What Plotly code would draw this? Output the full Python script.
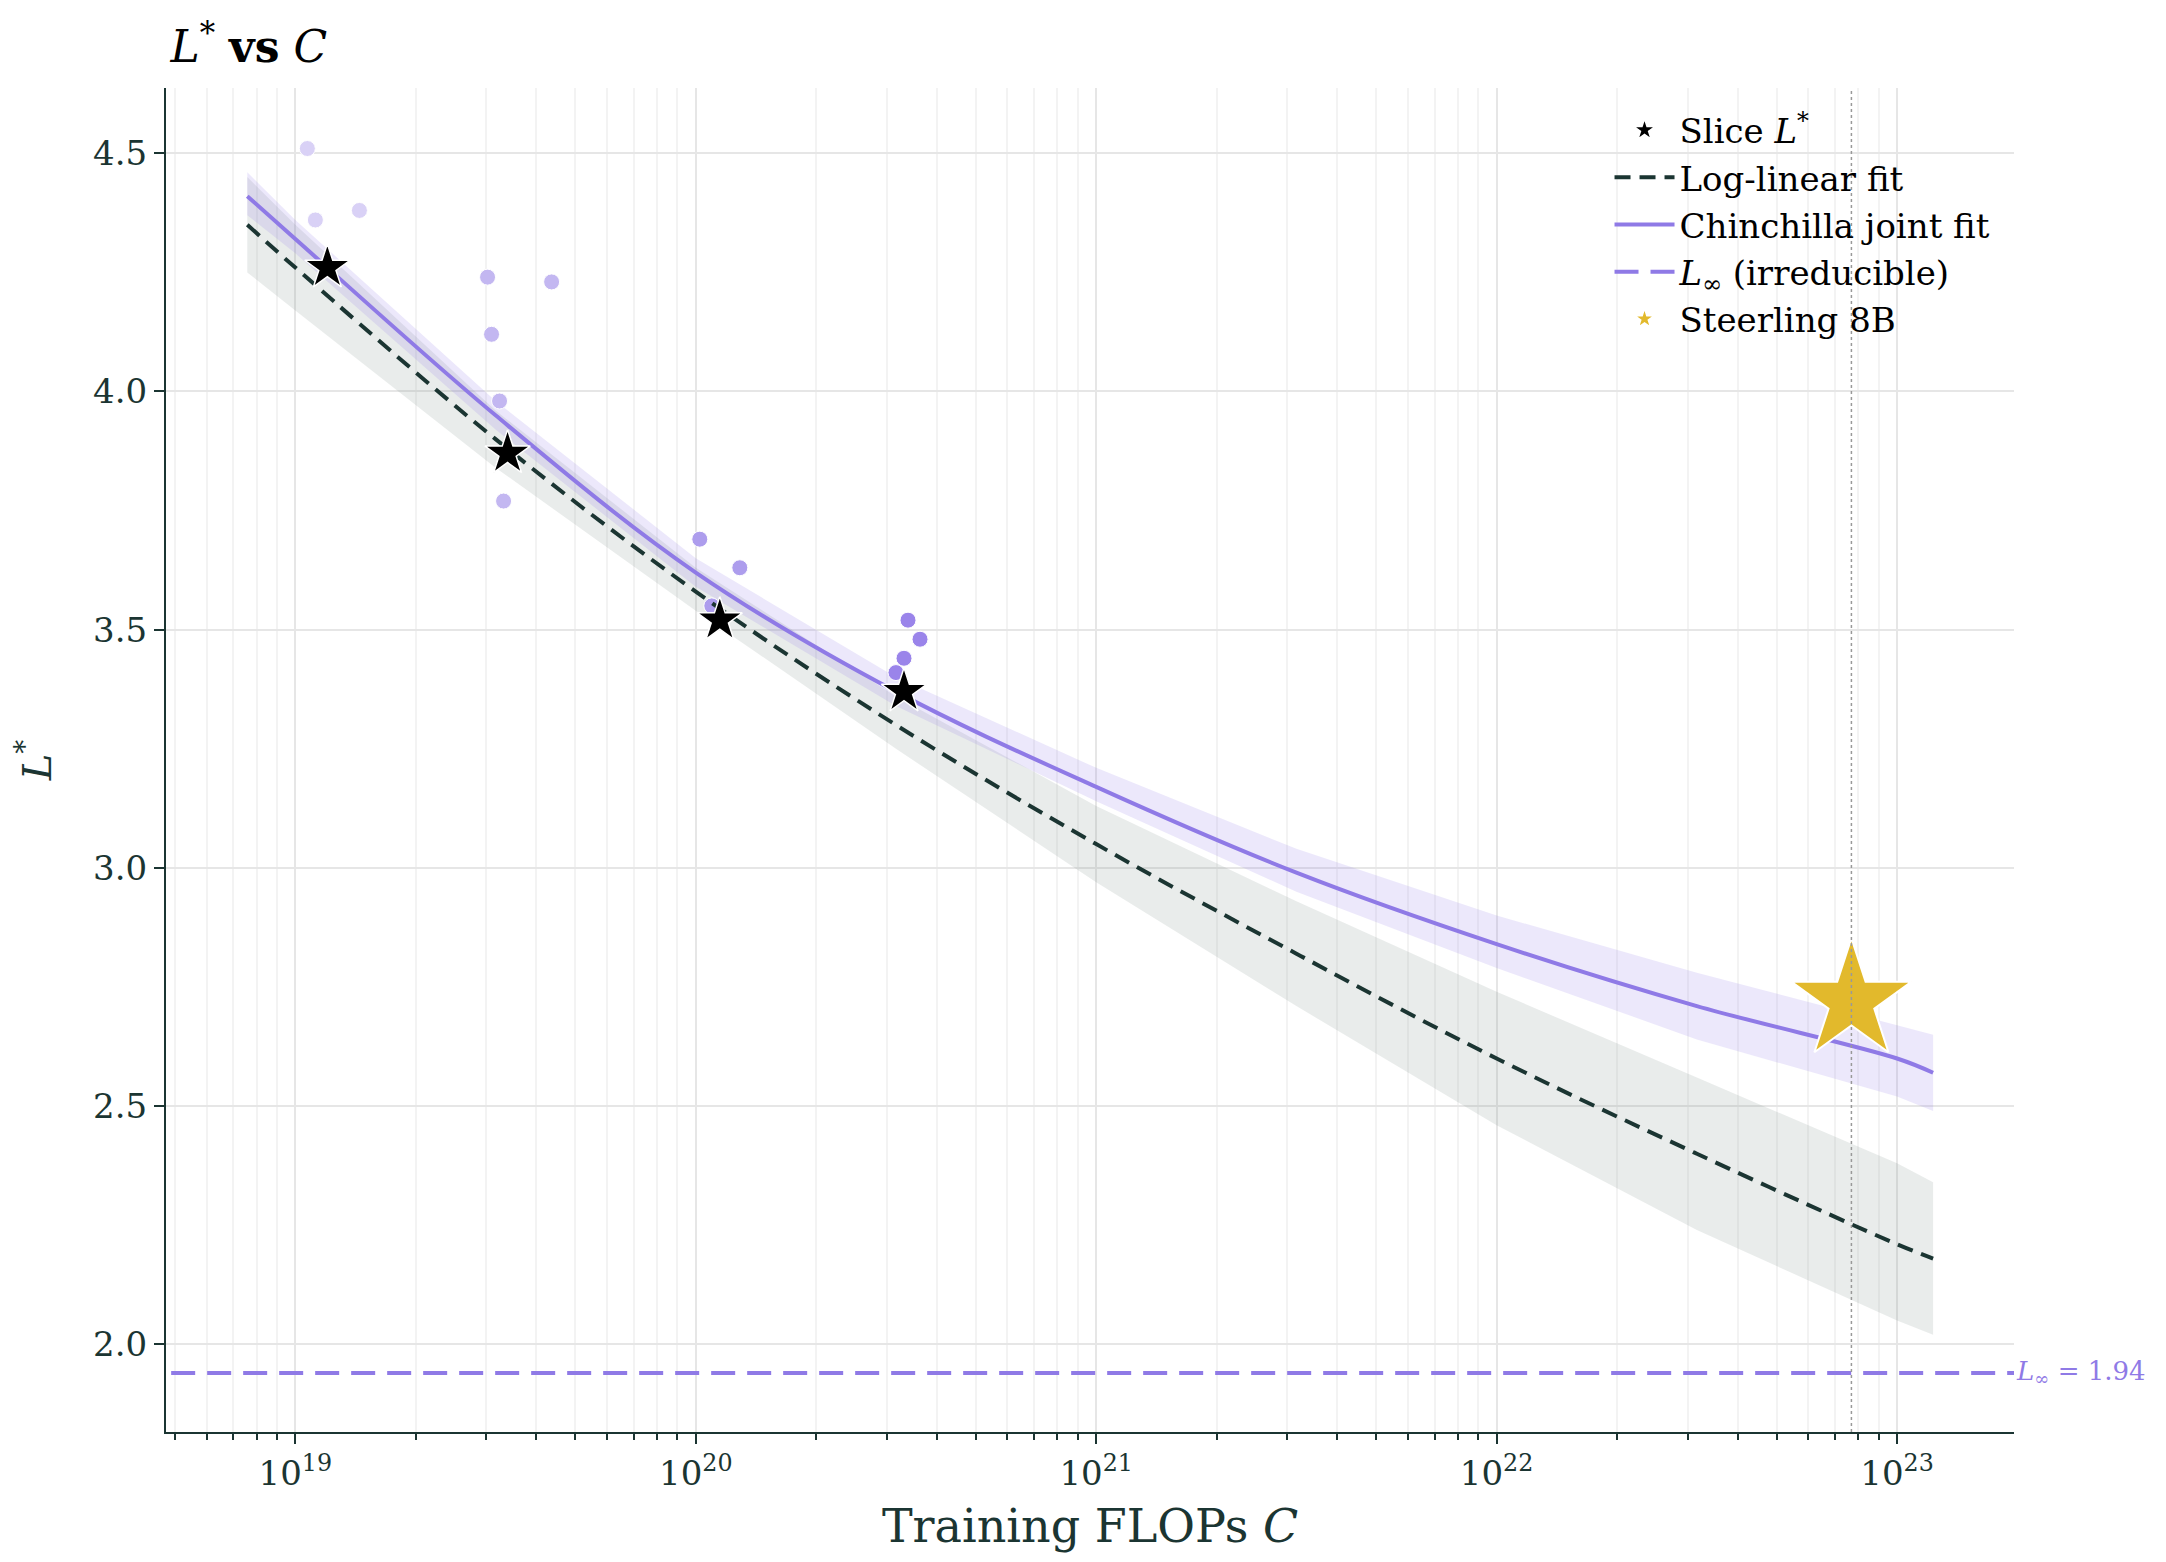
import numpy as np
import plotly.graph_objects as go

# fit curves (log10 C -> L*)
fit_logc = [18.88, 19.0, 19.5, 20.0, 20.5, 21.0, 21.5, 22.0, 22.5, 23.0, 23.09]
chin_fit = [4.41, 4.32, 3.95, 3.62, 3.37, 3.17, 2.99, 2.84, 2.71, 2.60, 2.57]
chin_lo = [4.37, 4.29, 3.92, 3.59, 3.34, 3.14, 2.95, 2.79, 2.64, 2.52, 2.49]
chin_hi = [4.46, 4.36, 3.98, 3.65, 3.40, 3.21, 3.04, 2.90, 2.78, 2.67, 2.65]
loglin_fit = [4.35, 4.26, 3.90, 3.58, 3.30, 3.05, 2.82, 2.60, 2.40, 2.21, 2.18]
loglin_lo = [4.25, 4.17, 3.84, 3.54, 3.25, 2.97, 2.71, 2.46, 2.24, 2.05, 2.02]
loglin_hi = [4.45, 4.35, 3.96, 3.63, 3.36, 3.13, 2.93, 2.74, 2.56, 2.38, 2.34]

# raw runs
run_logc = [19.03, 19.05, 19.16, 19.48, 19.49, 19.64, 19.51, 19.52,
            20.01, 20.11, 20.04, 20.53, 20.56, 20.52, 20.50]
run_loss = [4.51, 4.36, 4.38, 4.24, 4.12, 4.23, 3.98, 3.77,
            3.69, 3.63, 3.55, 3.52, 3.48, 3.44, 3.41]
run_group = [0, 0, 0, 1, 1, 1, 1, 1, 2, 2, 2, 3, 3, 3, 3]

# per-slice optimum
slice_logc = [19.08, 19.53, 20.06, 20.52]
slice_loss = [4.26, 3.87, 3.52, 3.37]

steerling_logc = 22.886
steerling_loss = 2.72
l_inf = 1.94

group_colors = ['#d9d1f6', '#c3b7f1', '#ad9ded', '#9a84ea']
PURPLE = '#8f7ae6'
DARK = '#1b3532'
FONT = 'DejaVu Serif'


def p10(v):
    return 10.0 ** v


fc = [p10(v) for v in fit_logc]
fig = go.Figure()

fig.add_trace(go.Scatter(x=fc + fc[::-1], y=loglin_hi + loglin_lo[::-1],
        fill='toself', fillcolor='rgba(120,135,130,0.16)', line=dict(width=0),
        hoverinfo='skip', showlegend=False))
fig.add_trace(go.Scatter(x=fc + fc[::-1], y=chin_hi + chin_lo[::-1],
        fill='toself', fillcolor='rgba(150,130,235,0.18)', line=dict(width=0),
        hoverinfo='skip', showlegend=False))

fig.add_trace(go.Scatter(x=[p10(v) for v in run_logc], y=run_loss, mode='markers',
        marker=dict(size=16, color=[group_colors[g] for g in run_group],
                    line=dict(color='white', width=1)),
        showlegend=False))

fig.add_trace(go.Scatter(x=fc, y=loglin_fit, mode='lines', name='Log-linear fit',
        line=dict(color=DARK, width=4, dash='16px,9px', shape='spline')))
fig.add_trace(go.Scatter(x=fc, y=chin_fit, mode='lines', name='Chinchilla joint fit',
        line=dict(color=PURPLE, width=4, shape='spline')))

fig.add_trace(go.Scatter(x=[p10(v) for v in slice_logc], y=slice_loss, mode='markers',
        name='Slice <i>L</i><sup>*</sup>',
        marker=dict(symbol='star', size=34, color='black', line=dict(color='white', width=1.5))))

fig.add_trace(go.Scatter(x=[p10(18.6), p10(23.4)], y=[l_inf, l_inf], mode='lines',
        name='<i>L</i><sub>∞</sub> (irreducible)',
        line=dict(color=PURPLE, width=4, dash='24px,12px')))

fig.add_trace(go.Scatter(x=[p10(steerling_logc)], y=[steerling_loss], mode='markers',
        name='Steerling 8B',
        marker=dict(symbol='star', size=90, color='#e2b92c', line=dict(color='white', width=2))))

fig.add_vline(x=p10(steerling_logc), line=dict(color='#999', width=1.5, dash='dot'))
fig.add_annotation(x=1.0, xref='paper', xanchor='left', y=l_inf, yref='y',
        text='<i>L</i><sub>∞</sub> = 1.94', showarrow=False,
        font=dict(color=PURPLE, size=26, family=FONT))

# reorder legend: slice, log-linear, chinchilla, L_inf, steerling
for tr, rank in zip(fig.data[3:], [2, 3, 1, 4, 5]):
    tr.legendrank = rank

tick_exp = [19, 20, 21, 22, 23]
minor_vals = [m * p10(e) for e in range(18, 24) for m in range(2, 10)]
fig.update_xaxes(type='log', range=[18.677, 23.292],
        tickvals=[p10(e) for e in tick_exp],
        ticktext=[f'10<sup>{e}</sup>' for e in tick_exp],
        showgrid=True, gridcolor='#e6e6e6', gridwidth=1.5,
        minor=dict(tickvals=minor_vals, showgrid=True, gridcolor='#f3f3f3',
                   ticks='outside', ticklen=6, tickcolor=DARK),
        ticks='outside', ticklen=10, tickwidth=1.5, tickcolor=DARK,
        showline=True, linecolor=DARK, linewidth=2, zeroline=False,
        tickfont=dict(size=34),
        title=dict(text='Training FLOPs <i>C</i>', font=dict(size=46), standoff=18))
fig.update_yaxes(range=[1.816, 4.637], tickvals=[2.0, 2.5, 3.0, 3.5, 4.0, 4.5],
        ticktext=['2.0', '2.5', '3.0', '3.5', '4.0', '4.5'],
        showgrid=True, gridcolor='#e6e6e6', gridwidth=1.5,
        ticks='outside', ticklen=10, tickwidth=1.5, tickcolor=DARK,
        showline=True, linecolor=DARK, linewidth=2, zeroline=False,
        tickfont=dict(size=34),
        title=dict(text='<i>L</i><sup>*</sup>', font=dict(size=40), standoff=30))

fig.update_layout(
    width=2166, height=1562,
    plot_bgcolor='white', paper_bgcolor='white',
    font=dict(family=FONT, size=30, color=DARK),
    title=dict(text='<i>L</i><sup>*</sup> <b>vs</b> <i>C</i>', x=0.075, xanchor='left',
               y=0.985, font=dict(size=44, color='black')),
    legend=dict(x=0.99, y=0.99, xanchor='right', yanchor='top',
                bgcolor='rgba(255,255,255,0)', font=dict(size=34, color='black'),
                itemwidth=60),
    margin=dict(l=158, r=160, t=80, b=138),
    showlegend=True)

fig.write_html("out.html")
